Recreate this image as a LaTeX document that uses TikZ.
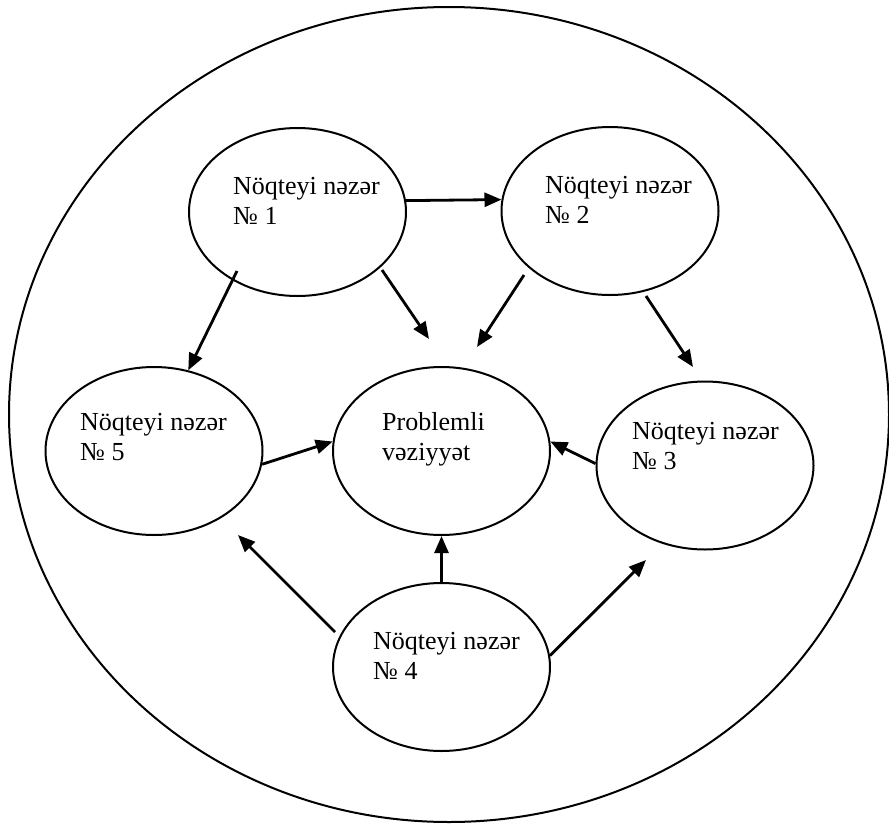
\documentclass[tikz,border=0pt]{standalone}
\usepackage{fontspec}
\setmainfont{Liberation Serif}
\usetikzlibrary{shapes.geometric,arrows.meta}
% two-line caption, first baseline at the node's base anchor
\newcommand\viewtext[2]{\begin{tabular}[t]{@{}l@{}}#1\\#2\end{tabular}}
\begin{document}
\begin{tikzpicture}[x=1pt,y=-1pt,
  view/.style={draw, ellipse, line width=2pt, minimum width=217pt,
    minimum height=168pt, inner sep=0pt},
  caption/.style={anchor=base west, inner sep=0pt,
    font=\fontsize{26}{30}\selectfont},
  link/.style={line width=2.8pt, -{Triangle[length=17pt,width=14pt]}}]
\useasboundingbox (0,0) rectangle (889,825);

% outer field
\node[view, minimum width=880pt, minimum height=815pt] (field) at (449,414.5) {};

% points of view and the problem situation
\node[view] (n1) at (297.5,212) {};
\node[view] (n2) at (610,211) {};
\node[view] (n5) at (154,451) {};
\node[view] (pv) at (441.5,451) {};
\node[view] (n3) at (705,465.5) {};
\node[view] (n4) at (441.5,667) {};

\node[caption] (t1) at (233,194) {\viewtext{Nöqteyi nəzər}{№ 1}};
\node[caption] (t2) at (545,193) {\viewtext{Nöqteyi nəzər}{№ 2}};
\node[caption] (t5) at (80,430) {\viewtext{Nöqteyi nəzər}{№ 5}};
\node[caption] (tc) at (382,430) {\viewtext{Problemli}{vəziyyət}};
\node[caption] (t3) at (632,439) {\viewtext{Nöqteyi nəzər}{№ 3}};
\node[caption] (t4) at (373,649) {\viewtext{Nöqteyi nəzər}{№ 4}};

% free ends of the connectors
\coordinate (s15) at (237,271);
\coordinate (s1c) at (382,270);
\coordinate (e1c) at (429,339);
\coordinate (s2c) at (524,275);
\coordinate (e2c) at (477,347);
\coordinate (s23) at (646,296);
\coordinate (e23) at (693,367);
\coordinate (s45) at (335,632);
\coordinate (e45) at (238,535);
\coordinate (e43) at (646,560);

% connectors
\draw[link] (n1.6) -- (n2.174);
\draw[link] (s15) -- (n5.67);
\draw[link] (s1c) -- (e1c);
\draw[link] (s2c) -- (e2c);
\draw[link] (s23) -- (e23);
\draw[link] (n5.-7) -- (pv.175);
\draw[link] (n3.179) -- (pv.5);
\draw[link] (s45) -- (e45);
\draw[link] (n4.north) -- (pv.south);
\draw[link] (n4.6) -- (e43);
\end{tikzpicture}
\end{document}
